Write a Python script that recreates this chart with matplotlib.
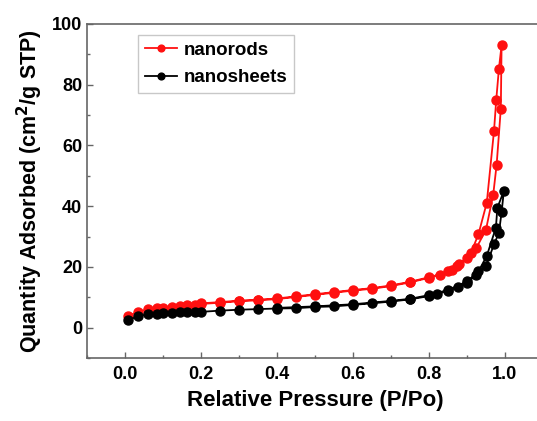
import matplotlib
matplotlib.use("Agg")
import matplotlib.pyplot as plt
from matplotlib.ticker import MultipleLocator

plt.rcParams["font.family"] = ["Liberation Sans", "DejaVu Sans"]
plt.rcParams["font.weight"] = "bold"

# ---- data (adsorption then desorption branch) ----
rods_p = [0.009, 0.035, 0.061, 0.083, 0.10, 0.123, 0.144, 0.162, 0.184, 0.20,
          0.25, 0.30, 0.35, 0.40, 0.45, 0.50, 0.55, 0.60, 0.65, 0.70, 0.75,
          0.80, 0.85, 0.875, 0.90, 0.925, 0.95, 0.969, 0.978, 0.989, 0.991,
          0.984, 0.977, 0.971, 0.952, 0.93, 0.91, 0.88, 0.86, 0.83, 0.80,
          0.75, 0.70, 0.65, 0.60, 0.55, 0.50, 0.45, 0.40, 0.35, 0.30, 0.25, 0.20]
rods_q = [3.8, 5.3, 6.0, 6.4, 6.6, 6.9, 7.1, 7.3, 7.6, 7.8,
          8.2, 8.7, 9.0, 9.4, 10.1, 10.8, 11.5, 12.2, 12.8, 13.7, 14.9,
          16.4, 18.6, 20.3, 22.8, 26.3, 32.3, 43.8, 53.7, 72.1, 93.0,
          85.3, 75.1, 64.7, 41.1, 30.7, 24.5, 20.8, 19.0, 17.5, 16.6,
          15.1, 13.9, 13.0, 12.4, 11.7, 11.0, 10.3, 9.6, 9.2, 8.9, 8.4, 8.0]

sheets_p = [0.009, 0.035, 0.061, 0.083, 0.10, 0.123, 0.144, 0.162, 0.184, 0.20,
            0.25, 0.30, 0.35, 0.40, 0.45, 0.50, 0.55, 0.60, 0.65, 0.70, 0.75,
            0.80, 0.822, 0.85, 0.877, 0.90, 0.925, 0.95, 0.971, 0.984, 0.991, 0.997,
            0.98, 0.976, 0.952, 0.93, 0.90, 0.85, 0.80, 0.75, 0.70, 0.60, 0.50, 0.40]
sheets_q = [2.5, 3.8, 4.4, 4.6, 4.8, 4.9, 5.0, 5.1, 5.1, 5.2,
            5.6, 5.9, 6.1, 6.3, 6.4, 6.8, 7.0, 7.5, 8.0, 8.6, 9.3,
            10.4, 11.1, 12.1, 13.3, 14.8, 17.5, 20.3, 27.4, 31.2, 38.0, 45.0,
            39.5, 32.9, 23.6, 18.5, 15.2, 12.4, 10.7, 9.5, 8.8, 7.7, 7.0, 6.5]

fig = plt.figure(figsize=(5.37, 4.21), dpi=100)
ax = fig.add_axes([87 / 537, 63 / 421, 456 / 537, 334 / 421])

ax.plot(rods_p, rods_q, color="#ff1010", marker="o", markersize=6.5,
        linewidth=1.3, label="nanorods")
ax.plot(sheets_p, sheets_q, color="black", marker="o", markersize=6.5,
        linewidth=1.3, label="nanosheets")

ax.set_xlim(-0.1, 1.1)
ax.set_ylim(-10, 100)
ax.xaxis.set_major_locator(MultipleLocator(0.2))
ax.xaxis.set_minor_locator(MultipleLocator(0.1))
ax.yaxis.set_major_locator(MultipleLocator(20))
ax.yaxis.set_minor_locator(MultipleLocator(10))
ax.set_xticks([0.0, 0.2, 0.4, 0.6, 0.8, 1.0])
ax.set_xticklabels(["0.0", "0.2", "0.4", "0.6", "0.8", "1.0"])

for s in ax.spines.values():
    s.set_color("#666666")
    s.set_linewidth(1.2)
ax.tick_params(which="both", direction="in", color="#666666", labelsize=13,
               top=False, right=False)
ax.tick_params(which="major", length=4, width=1)
ax.tick_params(which="minor", length=2, width=1)
ax.tick_params(axis="x", pad=6)

ax.set_xlabel("Relative Pressure (P/Po)", fontsize=16, fontweight="bold", labelpad=5)
ax.set_ylabel("Quantity Adsorbed (cm$^\\mathbf{2}$/g STP)", fontsize=15.5,
              fontweight="bold", labelpad=5)

leg = ax.legend(loc="upper left", bbox_to_anchor=(0.112, 0.967), fontsize=13.5,
                frameon=True, fancybox=False, handlelength=1.7,
                borderaxespad=0, borderpad=0.35, labelspacing=0.55,
                handletextpad=0.4, markerscale=0.75)
leg.get_frame().set_edgecolor("#bbbbbb")
leg.get_frame().set_linewidth(1.0)

fig.savefig("out.png", dpi=100)
